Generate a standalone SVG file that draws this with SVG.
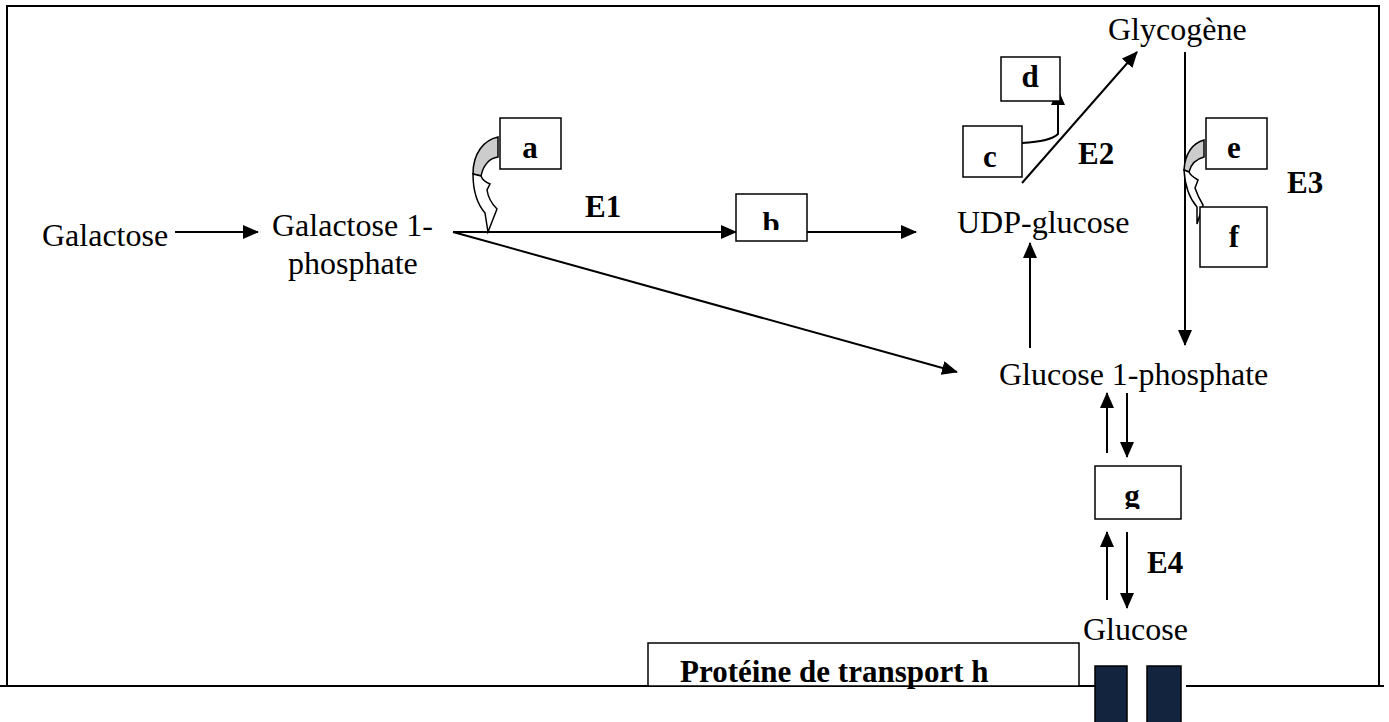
<svg xmlns="http://www.w3.org/2000/svg" width="1389" height="722" viewBox="0 0 1389 722">
<style>
.t{font-family:"Liberation Serif","Times New Roman",serif;font-size:32px;fill:#000}
.b{font-family:"Liberation Serif","Times New Roman",serif;font-size:31px;font-weight:bold;fill:#000}
.box{fill:#fff;stroke:#000;stroke-width:1.5}
.ln{fill:none;stroke:#000;stroke-width:2}
.fr{fill:none;stroke:#000;stroke-width:2}
.gr{fill:#cccccc;stroke:#000;stroke-width:1.5}
.wh{fill:#fff;stroke:#000;stroke-width:1.5}
.dk{fill:#13243f;stroke:#000;stroke-width:1.5}
</style>
<defs>
<marker id="ah" markerUnits="userSpaceOnUse" markerWidth="16" markerHeight="14" refX="15" refY="7" orient="auto">
<path d="M0,0 L16,7 L0,14 Z" fill="#000"/>
</marker>
<clipPath id="clipB"><rect x="736" y="194" width="71" height="36"/></clipPath>
<clipPath id="clipG"><rect x="1095" y="466" width="86" height="43"/></clipPath>
</defs>
<rect width="1389" height="722" fill="#fff"/>
<g id="frame">
<path class="fr" d="M7,686 L7,6 L1380,6"/>
<path class="fr" d="M1379,6 L1379,686"/>
<path class="fr" d="M0,686 L1095,686"/>
<path class="fr" d="M1186,686 L1384,686"/>
</g>
<g id="connectors">
<line class="ln" x1="175" y1="232" x2="258" y2="232" marker-end="url(#ah)"/>
<line class="ln" x1="453" y1="232" x2="736" y2="232" marker-end="url(#ah)"/>
<line class="ln" x1="807" y1="232" x2="916" y2="232" marker-end="url(#ah)"/>
<line class="ln" x1="453" y1="232" x2="957" y2="372" marker-end="url(#ah)"/>
<line class="ln" x1="1030" y1="348" x2="1030" y2="243" marker-end="url(#ah)"/>
<line class="ln" x1="1022" y1="183" x2="1137" y2="52" marker-end="url(#ah)"/>
<path class="ln" d="M1022,143 C1040,142 1052,140 1058,134 L1058,90" marker-end="url(#ah)"/>
<line class="ln" x1="1185" y1="52" x2="1185" y2="345" marker-end="url(#ah)"/>
<line class="ln" x1="1107" y1="453" x2="1107" y2="393" marker-end="url(#ah)"/>
<line class="ln" x1="1127" y1="393" x2="1127" y2="457" marker-end="url(#ah)"/>
<line class="ln" x1="1107" y1="600" x2="1107" y2="532" marker-end="url(#ah)"/>
<line class="ln" x1="1127" y1="532" x2="1127" y2="608" marker-end="url(#ah)"/>
</g>
<g id="arrow-a">
<path class="gr" d="M498,137 C484,140 473,153 473,174 L481,176 C483,166 489,158 498,157 Z"/>
<path class="wh" d="M473,174 C473,193 479,206 485,213 L488,232 L497,209 C491,203 488,197 487,190 L490,184 C485,182 482,179 481,176 Z"/>
</g>
<g id="arrow-e">
<path class="gr" d="M1204,140 C1193,143 1185,153 1184,170 L1189,172 C1191,164 1196,159 1204,157 Z"/>
<path class="wh" d="M1184,170 C1185,186 1190,199 1197,207 L1197,224 L1203,205 C1200,200 1197,194 1195,188 L1198,180 C1193,177 1190,175 1189,172 Z"/>
</g>
<g id="galactose"><text class="t" x="42" y="246">Galactose</text></g>
<g id="galactose1p"><text class="t" x="272" y="236">Galactose 1-</text><text class="t" x="288" y="274">phosphate</text></g>
<g id="node-a"><rect class="box" x="500" y="118" width="61" height="51"/><text class="b" x="530" y="158" text-anchor="middle">a</text></g>
<g id="label-e1"><text class="b" x="585" y="217">E1</text></g>
<g id="node-b"><rect class="box" x="736" y="194" width="71" height="47"/><text class="b" x="771" y="234" text-anchor="middle" clip-path="url(#clipB)">b</text></g>
<g id="udp"><text class="t" x="957" y="233">UDP-glucose</text></g>
<g id="node-c"><rect class="box" x="963" y="126" width="59" height="51"/><text class="b" x="990" y="167" text-anchor="middle">c</text></g>
<g id="node-d"><rect class="box" x="1001" y="57" width="59" height="44"/><text class="b" x="1030" y="87" text-anchor="middle">d</text></g>
<g id="label-e2"><text class="b" x="1078" y="164">E2</text></g>
<g id="glycogene"><text class="t" x="1108" y="40">Glycogène</text></g>
<g id="node-e"><rect class="box" x="1206" y="118" width="61" height="51"/><text class="b" x="1234" y="158" text-anchor="middle">e</text></g>
<g id="node-f"><rect class="box" x="1200" y="207" width="67" height="60"/><text class="b" x="1234" y="247" text-anchor="middle">f</text></g>
<g id="label-e3"><text class="b" x="1287" y="193">E3</text></g>
<g id="g1p"><text class="t" x="999" y="385">Glucose 1-phosphate</text></g>
<g id="node-g"><rect class="box" x="1095" y="466" width="86" height="53"/><text class="b" x="1132" y="506" text-anchor="middle" clip-path="url(#clipG)">g</text></g>
<g id="label-e4"><text class="b" x="1147" y="573">E4</text></g>
<g id="glucose"><text class="t" x="1083" y="640">Glucose</text></g>
<g id="node-h"><rect class="box" x="648" y="643" width="431" height="43"/><text class="b" x="680" y="682">Protéine de transport h</text></g>
<g id="transporter">
<rect class="dk" x="1095" y="666" width="32" height="60"/>
<rect class="dk" x="1147" y="666" width="34" height="60"/>
</g>
</svg>
